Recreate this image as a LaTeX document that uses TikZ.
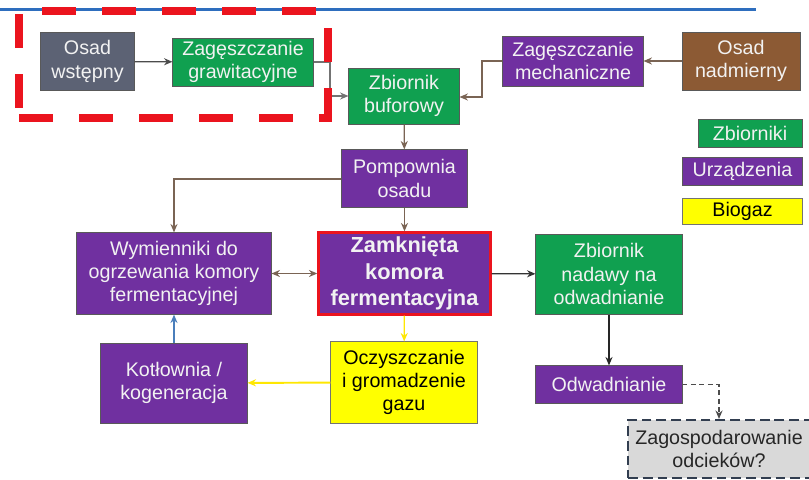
\documentclass[tikz,border=0pt]{standalone}
\usepackage{fontspec}
\setmainfont{Liberation Sans}
\usepackage{tikz}
\usetikzlibrary{arrows.meta, positioning}
\definecolor{tankgreen}{RGB}{16,160,80}
\definecolor{devicepurple}{RGB}{112,48,160}
\definecolor{gasyellow}{RGB}{255,255,0}
\definecolor{sludgebrown}{RGB}{140,90,52}
\definecolor{sludgegray}{RGB}{92,98,116}
\definecolor{pipebrown}{RGB}{122,100,84}
\definecolor{headerblue}{RGB}{46,110,190}
\definecolor{alertred}{RGB}{235,20,30}
\definecolor{slateborder}{RGB}{50,62,80}
\definecolor{heatblue}{RGB}{74,126,187}

\begin{document}
\begin{tikzpicture}[x=0.025cm, y=-0.025cm,
    box/.style={rectangle, draw=black!65, line width=0.7pt, fill=#1, text=white!95!black,
                align=center, inner sep=1pt, font=\fontsize{14}{16.5}\selectfont},
    flow/.style={draw=#1, line width=0.9pt, -{Stealth[length=6pt, width=5pt]}},
    groupmark/.style={alertred, line width=5.7pt, dash pattern=on 24.2pt off 18.5pt}
]
    \useasboundingbox (0,0) rectangle (809,480);

    % header line
    \draw[headerblue, line width=2.8pt] (0,9.5) -- (756,9.5);

    % sludge line
    \node[box=sludgegray, minimum width=2.33cm, minimum height=1.43cm] (wstepny) at (87.5,61.5) {Osad\\wstępny};
    \node[box=tankgreen, minimum width=3.5cm, minimum height=1.2cm] (grawit) at (243,62) {Zagęszczanie\\grawitacyjne};
    \node[box=tankgreen, minimum width=2.75cm, minimum height=1.4cm] (bufor) at (404,96) {Zbiornik\\buforowy};
    \node[box=devicepurple, minimum width=3.5cm, minimum height=1.25cm] (mechan) at (573,61) {Zagęszczanie\\mechaniczne};
    \node[box=sludgebrown, minimum width=2.95cm, minimum height=1.45cm] (nadmierny) at (741,61) {Osad\\nadmierny};
    \node[box=devicepurple, minimum width=3.13cm, minimum height=1.43cm] (pompownia) at (404.5,178.5) {Pompownia\\osadu};

    % digester level
    \node[box=devicepurple, minimum width=4.85cm, minimum height=2.03cm] (wymienniki) at (174,273.5) {Wymienniki do\\ogrzewania komory\\fermentacyjnej};
    \node[box=devicepurple, draw=alertred, line width=2.2pt, minimum width=4.28cm, minimum height=2.03cm,
          font=\fontsize{15.5}{18.7}\selectfont\bfseries] (komora) at (404.5,273.5) {Zamknięta\\komora\\fermentacyjna};
    \node[box=tankgreen, minimum width=3.65cm, minimum height=2cm] (nadawy) at (609,274) {Zbiornik\\nadawy na\\odwadnianie};

    % gas and dewatering
    \node[box=devicepurple, minimum width=3.65cm, minimum height=2cm] (kotlownia) at (174,383) {Kotłownia /\\kogeneracja};
    \node[box=gasyellow, draw=black!55, text=black, minimum width=3.65cm, minimum height=2.03cm] (oczyszcz) at (404,382.5) {Oczyszczanie\\i gromadzenie\\gazu};
    \node[box=devicepurple, minimum width=3.65cm, minimum height=0.93cm] (odwadn) at (609,384.5) {Odwadnianie};
    \node[box=black!15, draw=slateborder, line width=1.5pt, dash pattern=on 7pt off 3.5pt, text=black!85,
          minimum width=4.55cm, minimum height=1.45cm] (zagosp) at (719,449) {Zagospodarowanie\\odcieków?};

    % legend
    \node[box=tankgreen, minimum width=2.6cm, minimum height=0.7cm] (zbiorniki) at (750,133) {Zbiorniki};
    \node[box=devicepurple, minimum width=2.98cm, minimum height=0.68cm] (urzadzenia) at (742.5,171.5) {Urządzenia};
    \node[box=gasyellow, draw=black!55, text=black, minimum width=2.98cm, minimum height=0.65cm] (biogaz) at (742.5,211) {Biogaz};

    % connectors
    \draw[flow=black!70] (wstepny) -- (grawit);
    \draw[flow=black!55] (grawit.east) -- (330,62) -- (330,96) -- (bufor.west);
    \draw[flow=pipebrown] (nadmierny) -- (mechan);
    \draw[flow=pipebrown] (mechan.west) -- (482,61) -- (482,97) -- (bufor.east |- 0,97);
    \draw[flow=pipebrown] (bufor) -- (pompownia);
    \draw[flow=pipebrown] (pompownia.west |- 0,179) -| (wymienniki.north);
    \draw[flow=pipebrown] (pompownia) -- (komora);
    \draw[flow=pipebrown, {Stealth[length=6pt, width=5pt]}-{Stealth[length=6pt, width=5pt]}] (wymienniki) -- (komora);
    \draw[flow=black!80] (komora) -- (nadawy);
    \draw[flow=yellow!90!orange] (komora) -- (oczyszcz);
    \draw[flow=yellow!90!orange, line width=1.4pt] (oczyszcz) -- (kotlownia);
    \draw[flow=heatblue] (kotlownia) -- (wymienniki);
    \draw[flow=black!85] (nadawy) -- (odwadn);
    \draw[flow=black!70, dashed, dash pattern=on 3.5pt off 2.5pt] (odwadn.east) -| (zagosp.north);

    % marked group
    \draw[groupmark, dash phase=26.3pt] (19,11) -- (328,11);
    \draw[groupmark, dash phase=40.5pt] (19,11) -- (19,118);
    \draw[groupmark] (19,118) -- (328,118);
    \draw[groupmark, dash phase=30.6pt] (328,11) -- (328,122);
\end{tikzpicture}
\end{document}
